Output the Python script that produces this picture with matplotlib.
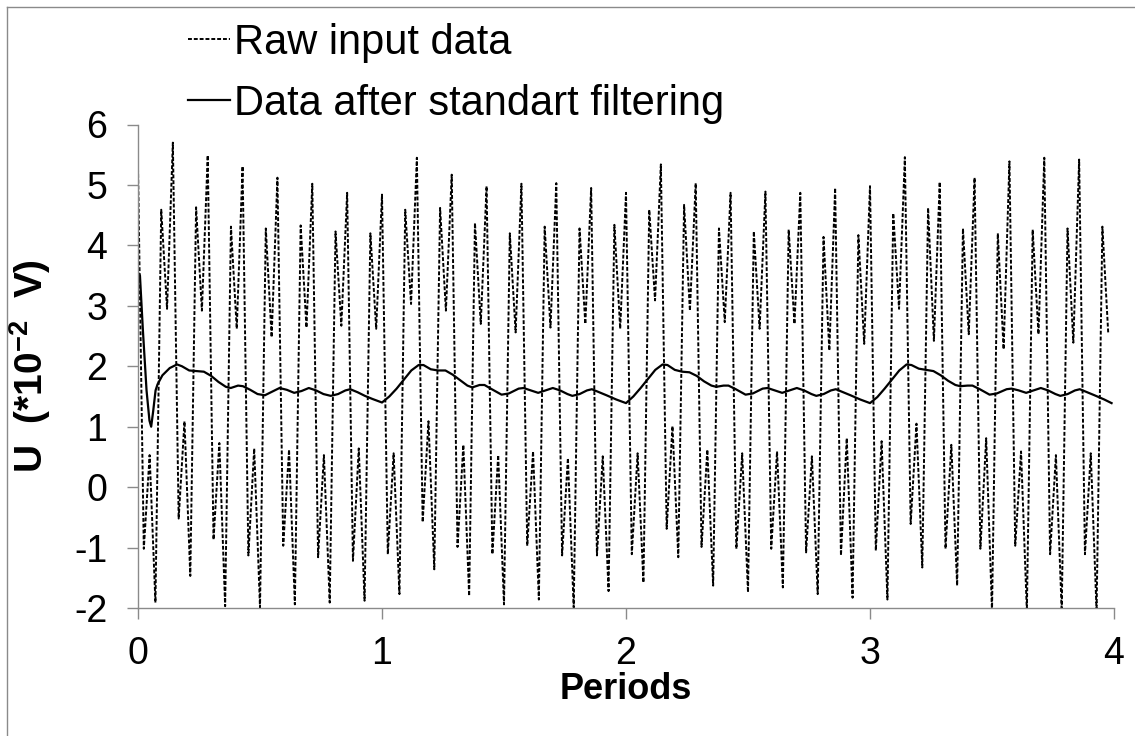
"""
Signal brut vs signal filtre (filtre standard), 4 periodes.
Valeurs relevees a la main sur la figure d'origine.
"""
import numpy as np
import matplotlib
matplotlib.use("Agg")
import matplotlib.pyplot as plt
from matplotlib.lines import Line2D

plt.rcParams["font.family"] = ["Liberation Sans", "DejaVu Sans"]
plt.rcParams["mathtext.fontset"] = "custom"
plt.rcParams["mathtext.rm"] = "Liberation Sans"
plt.rcParams["mathtext.bf"] = "Liberation Sans:bold"
plt.rcParams["axes.unicode_minus"] = False

W, H = 1135, 736
GREY = "#8a8a8a"

# ---------------------------------------------------------------------------
# Donnees brutes : 7 cycles par periode, 6 points releves par cycle
# (pic P -> creux A -> bosse B -> creux C -> pic D -> creux E -> pic P suivant)
# ---------------------------------------------------------------------------
STEPS_PER_PERIOD = 42
peak_start = 5.28
trough_a = [-1.02, -0.52, -0.87, -1.13, -0.97, -1.16, -1.22,
            -1.11, -0.58, -0.99, -1.11, -0.97, -1.13, -1.13,
            -1.11, -0.69, -0.99, -1.02, -1.02, -1.08, -1.13,
            -1.05, -0.61, -1.02, -1.02, -0.97, -1.11, -1.11]
bump_b = [0.53, 1.09, 0.73, 0.64, 0.62, 0.53, 0.64,
          0.56, 1.09, 0.70, 0.53, 0.59, 0.48, 0.51,
          0.56, 1.01, 0.62, 0.56, 0.59, 0.51, 0.81,
          0.76, 1.05, 0.70, 0.81, 0.59, 0.53, 0.56]
trough_c = [-1.91, -1.47, -1.97, -1.99, -1.94, -1.91, -1.88,
            -1.77, -1.36, -1.80, -1.94, -1.86, -1.99, -1.72,
            -1.58, -1.16, -1.63, -1.74, -1.66, -1.77, -1.83,
            -1.86, -1.33, -1.63, -2.05, -2.05, -2.05, -2.05]
peak_d = [4.59, 4.63, 4.31, 4.28, 4.33, 4.23, 4.20,
          4.59, 4.62, 4.37, 4.20, 4.31, 4.28, 4.34,
          4.59, 4.67, 4.28, 4.23, 4.26, 4.14, 4.17,
          4.53, 4.62, 4.28, 4.20, 4.26, 4.28, 4.31]
dip_e = [2.95, 2.92, 2.62, 2.48, 2.64, 2.67, 2.62,
         3.03, 2.92, 2.70, 2.56, 2.64, 2.70, 2.62,
         3.09, 2.92, 2.73, 2.62, 2.70, 2.26, 2.37,
         2.95, 2.42, 2.53, 2.28, 2.53, 2.39, 2.56]
peak_p = [5.70, 5.49, 5.31, 5.12, 5.02, 4.87, 4.84,
          5.45, 5.17, 4.98, 5.02, 5.03, 4.95, 4.87,
          5.34, 5.03, 4.87, 4.89, 4.87, 4.95, 4.98,
          5.46, 5.05, 5.12, 5.39, 5.45, 5.42]

# ---------------------------------------------------------------------------
# Donnees filtrees (relevees sur la courbe continue)
# ---------------------------------------------------------------------------
filt_t = [
    0.000, 0.008, 0.020, 0.035, 0.047, 0.054, 0.062, 0.072, 0.080, 0.100,
    0.130, 0.160, 0.180, 0.210, 0.240, 0.270, 0.300, 0.330, 0.360, 0.380,
    0.410, 0.430, 0.460, 0.490, 0.520, 0.550, 0.580, 0.610, 0.640, 0.670,
    0.700, 0.730, 0.760, 0.790, 0.820, 0.850, 0.870, 0.900, 0.930, 0.960,
    1.000, 1.030, 1.060, 1.090, 1.120, 1.150, 1.170, 1.200, 1.230, 1.260,
    1.290, 1.320, 1.350, 1.370, 1.400, 1.420, 1.450, 1.490, 1.520, 1.560,
    1.580, 1.610, 1.640, 1.670, 1.700, 1.730, 1.760, 1.780, 1.810, 1.840,
    1.860, 1.890, 1.920, 1.960, 2.000, 2.030, 2.060, 2.090, 2.120, 2.150,
    2.170, 2.200, 2.230, 2.260, 2.290, 2.320, 2.350, 2.370, 2.400, 2.420,
    2.450, 2.490, 2.520, 2.560, 2.580, 2.610, 2.640, 2.670, 2.700, 2.730,
    2.760, 2.780, 2.810, 2.840, 2.860, 2.890, 2.920, 2.960, 3.000, 3.030,
    3.060, 3.090, 3.120, 3.150, 3.170, 3.200, 3.230, 3.260, 3.290, 3.320,
    3.350, 3.370, 3.400, 3.420, 3.450, 3.490, 3.520, 3.560, 3.580, 3.610,
    3.640, 3.670, 3.700, 3.730, 3.760, 3.780, 3.810, 3.840, 3.860, 3.890,
    3.920, 3.960, 3.990]
filt_u = [
    3.55, 3.50, 2.60, 1.60, 1.10, 1.00, 1.25, 1.60, 1.70, 1.85,
    1.97, 2.03, 2.00, 1.93, 1.92, 1.91, 1.84, 1.74, 1.66, 1.64,
    1.68, 1.67, 1.61, 1.54, 1.52, 1.58, 1.64, 1.61, 1.56, 1.59,
    1.64, 1.60, 1.54, 1.51, 1.54, 1.60, 1.62, 1.57, 1.51, 1.46,
    1.40, 1.50, 1.63, 1.78, 1.93, 2.02, 2.02, 1.95, 1.93, 1.93,
    1.86, 1.77, 1.68, 1.65, 1.69, 1.69, 1.62, 1.53, 1.55, 1.63,
    1.64, 1.60, 1.56, 1.60, 1.64, 1.60, 1.54, 1.51, 1.54, 1.60,
    1.62, 1.57, 1.52, 1.45, 1.39, 1.50, 1.64, 1.79, 1.94, 2.03,
    2.02, 1.94, 1.91, 1.90, 1.84, 1.75, 1.68, 1.66, 1.68, 1.68,
    1.62, 1.53, 1.55, 1.63, 1.64, 1.60, 1.56, 1.60, 1.64, 1.60,
    1.54, 1.51, 1.54, 1.60, 1.62, 1.57, 1.52, 1.45, 1.39, 1.49,
    1.63, 1.78, 1.93, 2.03, 2.02, 1.96, 1.94, 1.92, 1.85, 1.76,
    1.69, 1.67, 1.68, 1.68, 1.62, 1.53, 1.55, 1.62, 1.63, 1.60,
    1.56, 1.60, 1.64, 1.60, 1.54, 1.51, 1.54, 1.60, 1.62, 1.57,
    1.52, 1.45, 1.39]

x_ticks = [0, 1, 2, 3, 4]
y_ticks = [-2, -1, 0, 1, 2, 3, 4, 5, 6]


def build_raw():
    raw = [peak_start]
    for i in range(len(trough_a)):
        raw += [trough_a[i], bump_b[i], trough_c[i], peak_d[i], dip_e[i]]
        if i < len(peak_p):
            raw.append(peak_p[i])
    t = np.arange(len(raw)) / STEPS_PER_PERIOD
    return t, np.array(raw)


def main():
    t_raw, raw = build_raw()

    fig = plt.figure(figsize=(W / 100, H / 100), dpi=100)
    ax = fig.add_axes([138 / W, 1 - 608 / H, 976 / W, 483.5 / H])

    ax.plot(t_raw, raw, color="black", lw=1.4, ls=(0, (2.0, 1.0)),
            label="Raw input data")
    ax.plot(filt_t, filt_u, color="black", lw=1.6,
            label="Data after standart filtering")

    ax.set_xlim(0, 4)
    ax.set_ylim(-2, 6)
    ax.set_xticks(x_ticks)
    ax.set_yticks(y_ticks)
    for s in ["top", "right"]:
        ax.spines[s].set_visible(False)
    for s in ["left", "bottom"]:
        ax.spines[s].set_color(GREY)
        ax.spines[s].set_linewidth(1.0)
    ax.tick_params(axis="both", direction="out", length=8, width=1.0,
                   color=GREY, labelsize=27)
    ax.tick_params(axis="y", pad=14)
    ax.tick_params(axis="x", pad=12)

    ax.set_xlabel("Periods", fontsize=26, fontweight="bold", labelpad=0)
    ax.set_ylabel(r"U  (*10$^{\mathbf{-2}}$  V)", fontsize=28,
                  fontweight="bold", labelpad=15)

    ax.legend(loc="upper left", bbox_to_anchor=(188 / W, 1 - 23 / H),
              bbox_transform=fig.transFigure, frameon=False, fontsize=30,
              handlelength=1.0, handletextpad=0.1, labelspacing=0.5,
              borderpad=0, borderaxespad=0)

    # cadre de la zone graphique (bords haut et gauche visibles)
    fig.add_artist(Line2D([6.5 / W, 6.5 / W], [0, 1 - 7 / H],
                          transform=fig.transFigure, color=GREY, lw=1))
    fig.add_artist(Line2D([6.5 / W, 1], [1 - 7 / H, 1 - 7 / H],
                          transform=fig.transFigure, color=GREY, lw=1))

    fig.savefig("out.png", dpi=100)
    plt.close(fig)


if __name__ == "__main__":
    main()
